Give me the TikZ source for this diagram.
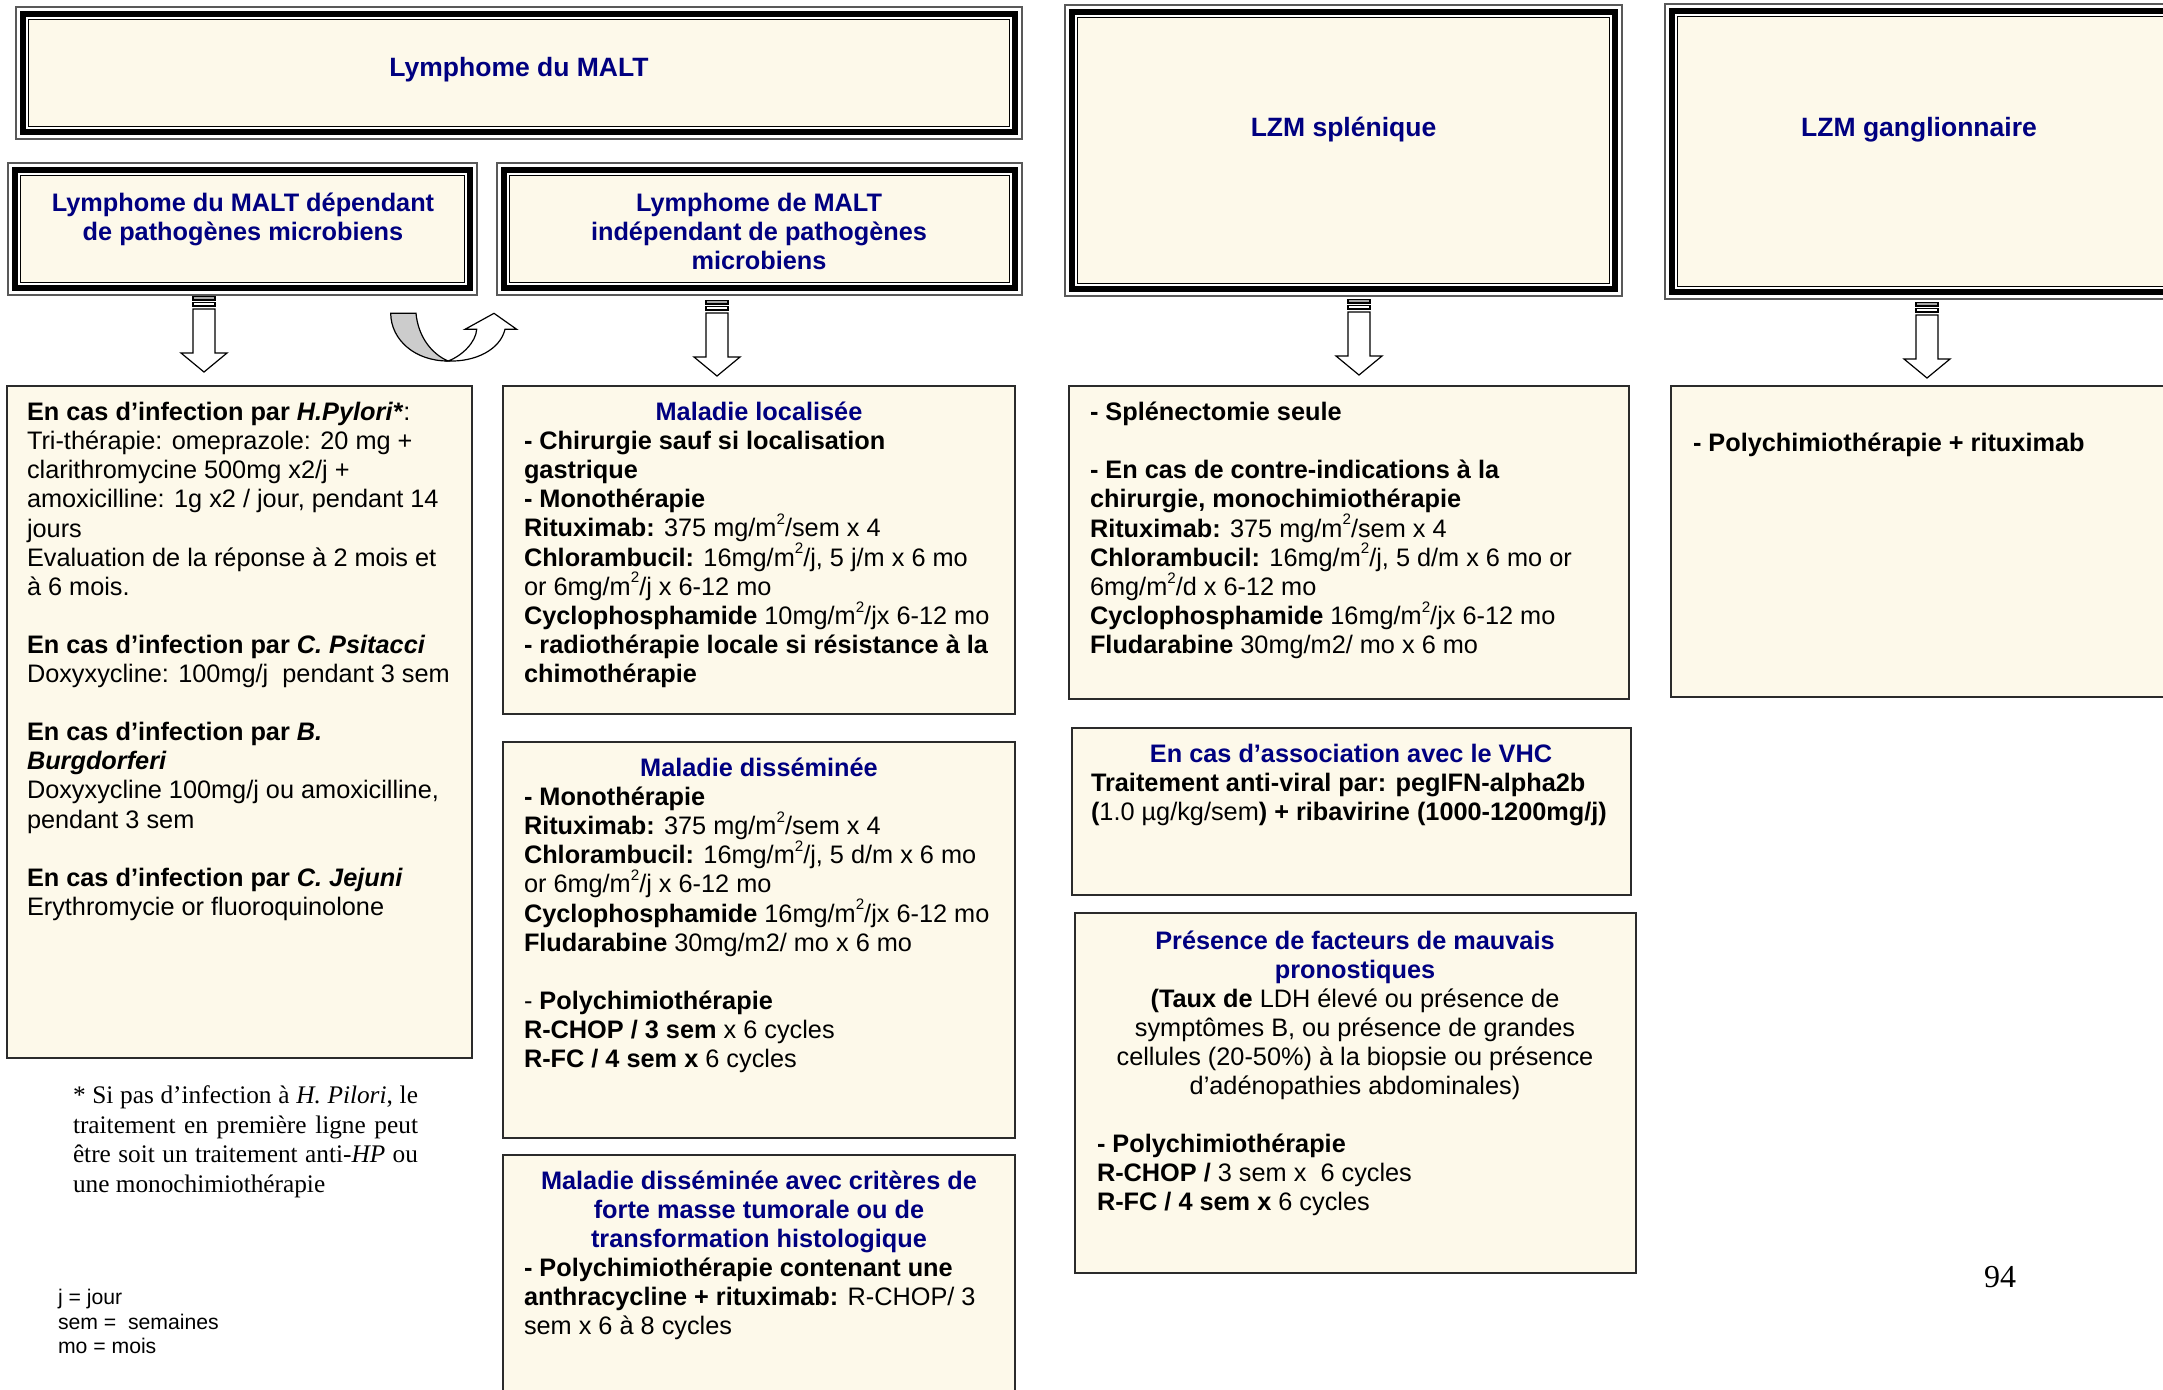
\documentclass[tikz,border=0pt]{standalone}
\usepackage{fontspec}
\setmainfont{Liberation Sans}
\newfontfamily\serifface{Liberation Serif}
\usetikzlibrary{fit,calc}
\definecolor{cream}{HTML}{FDF9EA}
\definecolor{navyc}{HTML}{000080}
\definecolor{edge}{HTML}{2B2B2B}
\newcommand\bodyfs{\fontsize{12.65pt}{14.55pt}\selectfont}
\newcommand\headfs{\fontsize{13.25pt}{15pt}\selectfont}
\newcommand\legfs{\fontsize{10.6pt}{12.25pt}\selectfont}
\newcommand\fnfs{\serifface\fontsize{12.65pt}{14.75pt}\selectfont}
\newcommand\sq{\raisebox{0.48em}{\fontsize{7.6pt}{8pt}\selectfont 2}}
\newcommand\st{\rule{0pt}{12pt}}
\newcommand\blank{\\[14.55pt]}
\newcommand\tribox[3]{%
  \node[fit={#2 #3}, inner sep=0pt, draw=black!65, line width=0.55pt] (#1) {};
  \fill[cream] ([shift={(6.6pt,-6.6pt)}]#1.north west) rectangle ([shift={(-6.6pt,6.6pt)}]#1.south east);
  \draw[line width=2.6pt] ([shift={(3.8pt,-3.8pt)}]#1.north west) rectangle ([shift={(-3.8pt,3.8pt)}]#1.south east);
  \draw[line width=0.8pt] ([shift={(6.6pt,-6.6pt)}]#1.north west) rectangle ([shift={(-6.6pt,6.6pt)}]#1.south east);
}
\newcommand\striparrow[1]{%
  \begin{scope}[shift={(#1)}, line width=0.6pt]
    \draw[fill=black!35, line width=0.85pt] (-11,0.5) rectangle (11,4);
    \draw[fill=white, line width=0.85pt] (-11,6.5) rectangle (11,10);
    \draw[fill=white] (-11,13) -- (11,13) -- (11,57) -- (23,57) -- (0,76) -- (-23,57) -- (-11,57) -- cycle;
  \end{scope}
}
\tikzset{
  txt/.style={inner sep=0pt, outer sep=0pt, anchor=north west, align=left, font=\bodyfs},
  ctxt/.style={inner sep=0pt, outer sep=0pt, anchor=north, align=center, font=\bodyfs},
  ttl/.style={inner sep=0pt, outer sep=0pt, anchor=north, align=center, font=\bodyfs\bfseries, text=navyc},
  htl/.style={inner sep=0pt, outer sep=0pt, anchor=north, align=center, font=\headfs\bfseries, text=navyc},
  cbox/.style={inner sep=0pt, draw=edge, line width=0.9pt, fill=cream},
}
\begin{document}
\begin{tikzpicture}[x=0.5pt,y=-0.5pt]
\useasboundingbox (0,0) rectangle (2163,1389);
\clip (0,0) rectangle (2163,1389);
\fill[white] (0,0) rectangle (2163,1389);

% title boxes
\tribox{malt}{(16,7)}{(1022,139)}
\tribox{dep}{(8,163)}{(477,295)}
\tribox{indep}{(497,163)}{(1022,295)}
\tribox{splen}{(1065,5)}{(1622,296)}
\tribox{gang}{(1665,4)}{(2190,299)}

% content boxes
\node[cbox, fit={(7,386) (472,1058)}] (pylori) {};
\node[cbox, fit={(503,386) (1015,714)}] (loc) {};
\node[cbox, fit={(503,742) (1015,1138)}] (diss) {};
\node[cbox, fit={(503,1155) (1015,1420)}] (crit) {};
\node[cbox, fit={(1069,386) (1629,699)}] (splenec) {};
\node[cbox, fit={(1072,728) (1631,895)}] (vhc) {};
\node[cbox, fit={(1075,913) (1636,1273)}] (pres) {};
\node[cbox, fit={(1671,386) (2190,697)}] (gangc) {};

% arrows
\coordinate (a-dep) at (204,296);
\coordinate (a-indep) at (717,300);
\coordinate (a-splen) at (1359,299);
\coordinate (a-gang) at (1927,302);
\striparrow{a-dep}
\striparrow{a-indep}
\striparrow{a-splen}
\striparrow{a-gang}

% U-turn arrow
\coordinate (u-a) at (390.7,313.3);
\coordinate (u-b) at (416,313.3);
\coordinate (u-c) at (448,361);
\draw[fill=black!20, line width=0.6pt] (u-a) -- (u-b) .. controls (418,335) and (430,353) .. (u-c) .. controls (415,361) and (391,340) .. (u-a) -- cycle;
\draw[fill=white, line width=0.6pt] (u-c) .. controls (475,362) and (500,350) .. (505,329.3) -- (516.7,329.3) -- (494,313.3) -- (465,329.3) -- (476.7,329.3) .. controls (476,342) and (462,356) .. (u-c) -- cycle;

\begin{scope}[yshift=-0.8pt]
\node[htl] (t-malt) at (519,51) {\st Lymphome du MALT};
\node[htl] (t-splen) at (1343.5,111) {\st LZM splénique};
\node[htl] (t-gang) at (1919,111) {\st LZM ganglionnaire};
\node[ttl] (t-dep) at (243,186) {\st Lymphome du MALT dépendant\\de pathogènes microbiens};
\node[ttl] (t-indep) at (759,186) {\st Lymphome de MALT\\indépendant de pathogènes\\microbiens};

% texts
\node[txt] (x-pylori) at (27,395) {\st\textbf{En cas d’infection par \textit{H.Pylori*}}:\\
Tri-thérapie: omeprazole: 20 mg +\\
clarithromycine 500mg x2/j +\\
amoxicilline: 1g x2 / jour, pendant 14\\
jours\\
Evaluation de la réponse à 2 mois et\\
à 6 mois.\blank
\textbf{En cas d’infection par \textit{C. Psitacci}}\\
Doxyxycline: 100mg/j \ pendant 3 sem\blank
\textbf{En cas d’infection par \textit{B.}}\\
\textbf{\textit{Burgdorferi}}\\
Doxyxycline 100mg/j ou amoxicilline,\\
pendant 3 sem\blank
\textbf{En cas d’infection par \textit{C. Jejuni}}\\
Erythromycie or fluoroquinolone};

\node[ttl] (t-loc) at (759,395) {\st Maladie localisée};
\node[txt] (x-loc) at (524,424) {\st\textbf{- Chirurgie sauf si localisation}\\
\textbf{gastrique}\\
\textbf{- Monothérapie}\\
\textbf{Rituximab:} 375 mg/m\sq/sem x 4\\
\textbf{Chlorambucil:} 16mg/m\sq/j, 5 j/m x 6 mo\\
or 6mg/m\sq/j x 6-12 mo\\
\textbf{Cyclophosphamide} 10mg/m\sq/jx 6-12 mo\\
\textbf{- radiothérapie locale si résistance à la}\\
\textbf{chimothérapie}};

\node[ttl] (t-diss) at (759,751) {\st Maladie disséminée};
\node[txt] (x-diss) at (524,780) {\st\textbf{- Monothérapie}\\
\textbf{Rituximab:} 375 mg/m\sq/sem x 4\\
\textbf{Chlorambucil:} 16mg/m\sq/j, 5 d/m x 6 mo\\
or 6mg/m\sq/j x 6-12 mo\\
\textbf{Cyclophosphamide} 16mg/m\sq/jx 6-12 mo\\
\textbf{Fludarabine} 30mg/m2/ mo x 6 mo\blank
- \textbf{Polychimiothérapie}\\
\textbf{R-CHOP / 3 sem} x 6 cycles\\
\textbf{R-FC / 4 sem x} 6 cycles};

\node[ttl] (t-crit) at (759,1164) {\st Maladie disséminée avec critères de\\forte masse tumorale ou de\\transformation histologique};
\node[txt] (x-crit) at (524,1251) {\st\textbf{- Polychimiothérapie contenant une}\\
\textbf{anthracycline + rituximab:} R-CHOP/ 3\\
sem x 6 à 8 cycles};

\node[txt] (x-splenec) at (1090,395) {\st\textbf{- Splénectomie seule}\blank
\textbf{- En cas de contre-indications à la}\\
\textbf{chirurgie, monochimiothérapie}\\
\textbf{Rituximab:} 375 mg/m\sq/sem x 4\\
\textbf{Chlorambucil:} 16mg/m\sq/j, 5 d/m x 6 mo or\\
6mg/m\sq/d x 6-12 mo\\
\textbf{Cyclophosphamide} 16mg/m\sq/jx 6-12 mo\\
\textbf{Fludarabine} 30mg/m2/ mo x 6 mo};

\node[ttl] (t-vhc) at (1351,737) {\st En cas d’association avec le VHC};
\node[txt] (x-vhc) at (1091,766) {\st\textbf{Traitement anti-viral par: pegIFN-alpha2b}\\
\textbf{(}1.0 µg/kg/sem\textbf{) + ribavirine (1000-1200mg/j)}};

\node[ttl] (t-pres) at (1355,924) {\st Présence de facteurs de mauvais\\pronostiques};
\node[ctxt] (x-pres) at (1355,982) {\st\textbf{(Taux de} LDH élevé ou présence de\\
symptômes B, ou présence de grandes\\
cellules (20-50\%) à la biopsie ou présence\\
d’adénopathies abdominales)};
\node[txt] (x-pres2) at (1097,1127) {\st\textbf{- Polychimiothérapie}\\
\textbf{R-CHOP /} 3 sem x \ 6 cycles\\
\textbf{R-FC / 4 sem x} 6 cycles};

\node[txt] (x-gang) at (1693,426) {\st\textbf{- Polychimiothérapie + rituximab}};

% footnote
\node[txt, font=\fnfs] (note) at (73,1078) {\st\makebox[172.5pt][s]{* Si pas d’infection à \textit{H. Pilori}, le}\\
\makebox[172.5pt][s]{traitement en première ligne peut}\\
\makebox[172.5pt][s]{être soit un traitement anti-\textit{HP} ou}\\
une monochimiothérapie};

\node[txt, font=\legfs] (legend) at (58,1283) {\rule{0pt}{10pt}j = jour\\
sem = \ semaines\\
mo = mois};
\end{scope}

\node[inner sep=0pt, anchor=base, font=\serifface\fontsize{16pt}{18pt}\selectfont] (page) at (2000,1287) {94};
\end{tikzpicture}
\end{document}
